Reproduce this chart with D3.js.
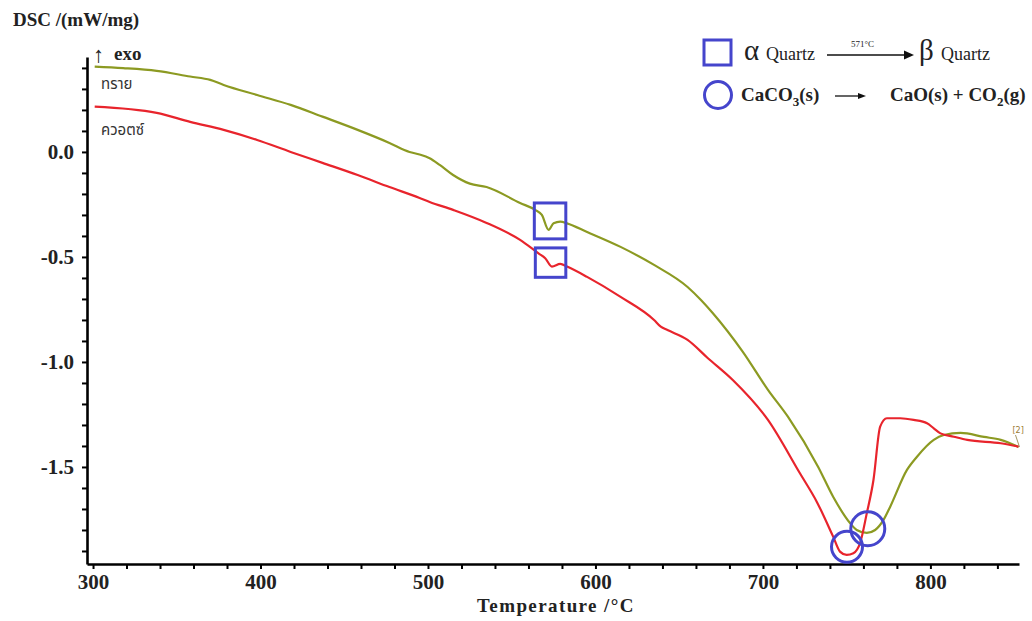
<!DOCTYPE html>
<html><head><meta charset="utf-8">
<script src="https://cdn.jsdelivr.net/npm/d3@7"></script>
<style>body{margin:0;background:#fff}</style>
</head><body><svg id="c" width="1032" height="621"></svg>
<script>
// ---- data (temperature °C, DSC mW/mg) ----
const sandT = [301,318,338,358,370,378,398,418,437,458,477,489,495,501,507,515,525,535,555,564,568,572,575,579,583,595,615,635,655,663,670,688,703,715,733,742,752,756,762,767,772,776,786,792,802,808,818,832,842,852.6];
const sandV = [0.406,0.399,0.386,0.359,0.343,0.319,0.271,0.224,0.168,0.105,0.043,0.000,-0.012,-0.030,-0.062,-0.110,-0.151,-0.167,-0.243,-0.276,-0.300,-0.371,-0.340,-0.332,-0.340,-0.381,-0.452,-0.538,-0.643,-0.705,-0.767,-0.952,-1.133,-1.262,-1.500,-1.643,-1.767,-1.800,-1.814,-1.800,-1.752,-1.689,-1.514,-1.451,-1.371,-1.348,-1.338,-1.357,-1.371,-1.405];
const quartzT = [301,338,358,378,398,418,437,458,477,495,501,515,535,555,566,570,574,579,583,595,615,635,639,643,655,667,682,703,722,732.5,742,746,750,754,758,762,766,770,774,782,790,798,802,806,814,822,842,852.6];
const quartzV = [0.216,0.186,0.143,0.105,0.057,0.000,-0.052,-0.110,-0.167,-0.219,-0.238,-0.276,-0.338,-0.419,-0.483,-0.506,-0.546,-0.533,-0.546,-0.595,-0.690,-0.800,-0.832,-0.848,-0.895,-0.981,-1.086,-1.276,-1.529,-1.671,-1.833,-1.903,-1.919,-1.911,-1.863,-1.721,-1.562,-1.308,-1.268,-1.268,-1.276,-1.292,-1.316,-1.340,-1.356,-1.371,-1.387,-1.403];
const seriesNames = ["ทราย","ควอตซ์"];
const xMajor = [300,400,500,600,700,800];
const xTickLabels = ["300","400","500","600","700","800"];
const yMajor = [-1.5,-1.0,-0.5,0.0];
const yTickLabels = ["-1.5","-1.0","-0.5","0.0"];
// annotations: quartz inversion boxes [T0,T1,v0,v1] and CaCO3 circles [T,v]
const boxes = [[563.5,582.3,-0.243,-0.414],[564.1,582.3,-0.457,-0.597]];
const circles = [[750.2,-1.880],[762.6,-1.794]];

const svg = d3.select("#c");
const serif = "'Liberation Serif','Times New Roman',serif";
const x = d3.scaleLinear().domain([296.4,852.9]).range([87,1019]);
const y = d3.scaleLinear().domain([-1.962,0.452]).range([564,57]);

const xMinor = d3.range(300,841,20);
const yMinor = d3.range(-19,5).map(d=>d/10);

// axes
const gx = svg.append("g").attr("transform","translate(0,564)")
  .call(d3.axisBottom(x).tickValues(xMinor).tickSize(5).tickSizeOuter(0).tickFormat(""));
const gy = svg.append("g").attr("transform","translate(87,0)")
  .call(d3.axisLeft(y).tickValues(yMinor).tickSize(5).tickSizeOuter(0).tickFormat(""));
[gx,gy].forEach(g=>{
  g.select(".domain").attr("stroke","#000").attr("stroke-width",2.6);
  g.selectAll(".tick line").attr("stroke","#000").attr("stroke-width",2);
});
svg.append("g").attr("transform","translate(0,564)")
  .call(d3.axisBottom(x).tickValues(xMajor).tickSize(0).tickPadding(10).tickFormat((d,i)=>xTickLabels[i]))
  .call(g=>g.select(".domain").remove())
  .selectAll("text").attr("font-family",serif).attr("font-weight","bold").attr("font-size",21).attr("fill","#222");
svg.append("g").attr("transform","translate(87,0)")
  .call(d3.axisLeft(y).tickValues(yMajor).tickSize(0).tickPadding(13).tickFormat((d,i)=>yTickLabels[i]))
  .call(g=>g.select(".domain").remove())
  .selectAll("text").attr("font-family",serif).attr("font-weight","bold").attr("font-size",21).attr("fill","#222");

// curves
const line = d3.line().x(d=>x(d[0])).y(d=>y(d[1])).curve(d3.curveMonotoneX);
svg.append("path").datum(sandT.map((t,i)=>[t,sandV[i]]))
  .attr("d",line).attr("fill","none").attr("stroke","#8c9a22").attr("stroke-width",2.2);
svg.append("path").datum(quartzT.map((t,i)=>[t,quartzV[i]]))
  .attr("d",line).attr("fill","none").attr("stroke","#e8242c").attr("stroke-width",2.2);

// end marker [2]
const ex = x(sandT[sandT.length-1]), ey = y(sandV[sandV.length-1]);
svg.append("line").attr("x1",ex-3).attr("y1",ey-12).attr("x2",ex+1).attr("y2",ey).attr("stroke","#8b7a3a").attr("stroke-width",0.8);
svg.append("text").attr("x",ex-6).attr("y",ey-14).attr("font-family","'DejaVu Sans',sans-serif").attr("font-size",8).attr("fill","#9a7a30").text("[2]");

// annotations
const blue = "#4545cc";
svg.selectAll("rect.box").data(boxes).join("rect")
  .attr("x",d=>x(d[0])).attr("y",d=>y(d[2])).attr("width",d=>x(d[1])-x(d[0])).attr("height",d=>y(d[3])-y(d[2]))
  .attr("fill","none").attr("stroke",blue).attr("stroke-width",3);
svg.selectAll("circle.ann").data(circles).join("circle")
  .attr("cx",d=>x(d[0])).attr("cy",d=>y(d[1])).attr("r",(d,i)=>i?17:15.5)
  .attr("fill","none").attr("stroke",blue).attr("stroke-width",3);

// titles
svg.append("text").attr("x",13).attr("y",26).attr("font-family",serif).attr("font-weight","bold")
  .attr("font-size",19).attr("fill","#222").text("DSC /(mW/mg)");
svg.append("text").attr("x",93).attr("y",62).attr("font-family",serif)
  .attr("font-size",22).attr("fill","#222").text("↑");
svg.append("text").attr("x",114).attr("y",60).attr("font-family",serif).attr("font-weight","bold")
  .attr("font-size",19).attr("fill","#222").text("exo");
svg.append("text").attr("x",477).attr("y",612).attr("font-family",serif).attr("font-weight","bold")
  .attr("font-size",19).attr("letter-spacing",1.4).attr("fill","#222").text("Temperature /°C");

// series labels
const thai = "'Noto Sans Thai','Noto Sans','DejaVu Sans',sans-serif";
svg.append("text").attr("x",101).attr("y",89).attr("font-family",thai).attr("font-size",15).attr("fill","#333").text(seriesNames[0]);
svg.append("text").attr("x",101).attr("y",135).attr("font-family",thai).attr("font-size",15).attr("fill","#333").text(seriesNames[1]);

// legend
svg.append("rect").attr("x",704).attr("y",40).attr("width",27).attr("height",25).attr("fill","none").attr("stroke",blue).attr("stroke-width",3);
svg.append("circle").attr("cx",718).attr("cy",95).attr("r",13.5).attr("fill","none").attr("stroke",blue).attr("stroke-width",3);
svg.append("text").attr("x",744).attr("y",60).attr("font-family",serif).attr("font-size",29).attr("fill","#222").text("α");
svg.append("text").attr("x",766).attr("y",60).attr("font-family",serif).attr("font-size",18).attr("fill","#222").text("Quartz");
svg.append("text").attr("x",851).attr("y",47).attr("font-family",serif).attr("font-size",9).attr("fill","#222").text("571°C");
svg.append("line").attr("x1",827).attr("y1",55).attr("x2",906).attr("y2",55).attr("stroke","#111").attr("stroke-width",1.6);
svg.append("path").attr("d","M904,50.5L914,55L904,59.5Z").attr("fill","#111");
svg.append("text").attr("x",919).attr("y",60).attr("font-family",serif).attr("font-size",29).attr("fill","#222").text("β");
svg.append("text").attr("x",941).attr("y",60).attr("font-family",serif).attr("font-size",18).attr("fill","#222").text("Quartz");

const t1 = svg.append("text").attr("x",741).attr("y",101).attr("font-family",serif).attr("font-weight","bold").attr("font-size",19).attr("fill","#222");
t1.append("tspan").text("CaCO");
t1.append("tspan").attr("dy",5).attr("font-size",13).text("3");
t1.append("tspan").attr("dy",-5).text("(s)");
svg.append("line").attr("x1",835).attr("y1",96).attr("x2",860).attr("y2",96).attr("stroke","#111").attr("stroke-width",1.3);
svg.append("path").attr("d","M858,93L866,96L858,99Z").attr("fill","#111");
const t2 = svg.append("text").attr("x",890).attr("y",101).attr("font-family",serif).attr("font-weight","bold").attr("font-size",19).attr("fill","#222");
t2.append("tspan").text("CaO(s) + CO");
t2.append("tspan").attr("dy",5).attr("font-size",13).text("2");
t2.append("tspan").attr("dy",-5).text("(g)");
</script></body></html>
